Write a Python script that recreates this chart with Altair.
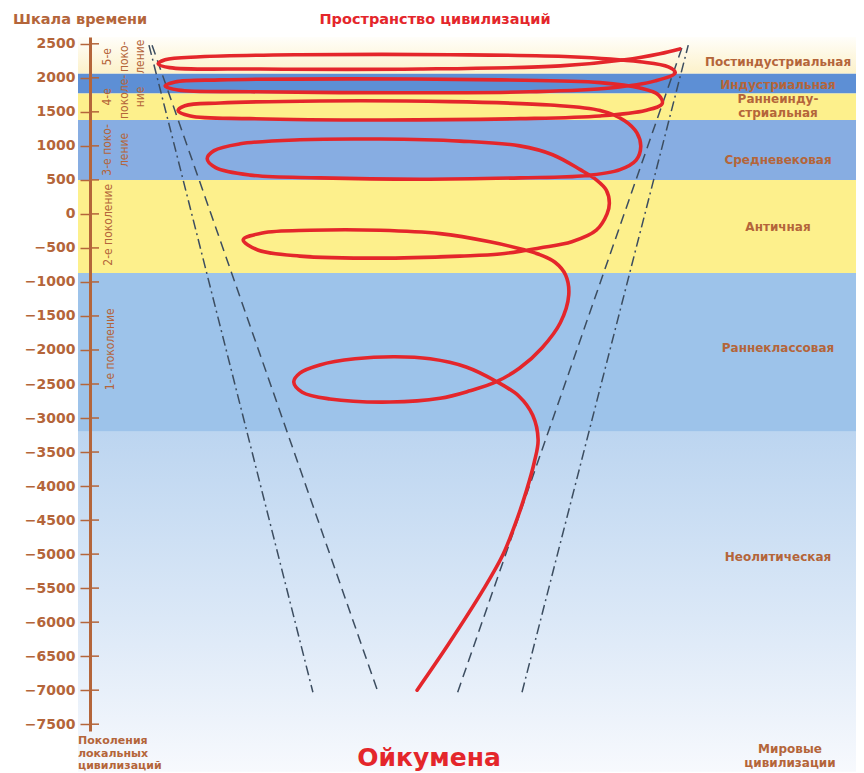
import altair as alt
import pandas as pd

# ---------------- data ----------------
tick_years = [2500, 2000, 1500, 1000, 500, 0, -500, -1000, -1500, -2000, -2500,
              -3000, -3500, -4000, -4500, -5000, -5500, -6000, -6500, -7000, -7500]

era_names = ["Постиндустриальная", "Индустриальная", "Раннеинду-\nстриальная",
             "Средневековая", "Античная", "Раннеклассовая", "Неолитическая"]
era_from = [2600, 2060, 1770, 1380, 500, -870, -3200]
era_to = [2060, 1770, 1380, 500, -870, -3200, -8200]
era_label_year = [2235, 1897, 1695, 795, -190, -1970, -5040]

generation_names = ["5-е\nпоко-\nление", "4-е\nпоколе-\nние", "3-е поко-\nление",
                    "2-е поколение", "1-е поколение"]
generation_year = [2310, 1720, 940, -160, -1990]

# the spiral of civilisations ("space" units 0..100, time in years)
spiral_x = [42.7, 46.7, 51.3, 53.9, 55.7, 57.0, 58.0, 58.5, 57.8, 56.0,
            53.0, 49.1, 44.4, 39.8, 34.6, 30.0, 27.4, 26.6, 27.7, 31.3,
            39.2, 45.7, 49.6, 53.0, 56.1, 59.0, 61.4, 62.5, 62.1, 60.7,
            58.5, 56.4, 52.2, 45.7, 37.9, 28.7, 22.5, 20.0, 21.9, 27.4,
            37.9, 48.3, 53.5, 58.7, 62.9, 66.1, 67.5, 67.8, 67.4, 66.1,
            64.0, 60.4, 56.1, 48.3, 37.9, 27.4, 19.6, 16.2, 15.3, 16.4,
            20.9, 30.0, 43.1, 56.1, 64.6, 69.2, 71.3, 71.9, 71.4, 69.8,
            66.6, 60.1, 47.0, 30.0, 17.0, 12.4, 11.5, 13.1, 20.9, 37.9,
            56.1, 66.6, 72.5, 74.7, 74.2, 71.8, 66.6, 53.5, 33.9, 17.0,
            11.1, 9.8, 11.5, 20.9, 40.5, 57.4, 67.9, 73.8, 76.4, 75.5,
            71.8, 62.7, 47.0, 27.4, 14.4, 9.8, 8.9, 10.4, 22.2, 43.1,
            61.4, 69.8, 74.4, 77.0]
spiral_year = [-7000, -6340, -5530, -5010, -4500, -4060, -3650, -3320, -2960, -2680,
               -2460, -2250, -2130, -2100, -2130, -2220, -2340, -2470, -2620, -2720,
               -2765, -2710, -2600, -2470, -2265, -1970, -1600, -1190, -900, -710,
               -590, -520, -410, -290, -240, -240, -280, -380, -530, -620,
               -650, -620, -590, -500, -410, -240, 0, 160, 350, 500,
               650, 870, 1000, 1070, 1100, 1090, 1030, 930, 810, 680,
               570, 530, 510, 530, 560, 650, 790, 990, 1190, 1370,
               1520, 1600, 1650, 1660, 1630, 1590, 1520, 1440, 1400, 1380,
               1400, 1440, 1520, 1620, 1750, 1850, 1930, 1970, 1985, 1970,
               1940, 1880, 1820, 1795, 1780, 1795, 1850, 1955, 2075, 2160,
               2235, 2310, 2340, 2340, 2310, 2265, 2205, 2150, 2130, 2130,
               2175, 2265, 2355, 2425]

# boundaries of the cone (local civilisations inside, world civilisations outside)
cone_names = ["left outer", "left inner", "right inner", "right outer"]
cone_kind = ["dashdot", "dashed", "dashed", "dashdot"]
cone_top_x = [7.7, 8.1, 77.4, 78.1]
cone_bottom_x = [29.1, 37.6, 48.0, 56.4]
cone_top_year = 2480
cone_bottom_year = -7030

# ---------------- styles ----------------
BROWN = "#b4653a"
RED = "#e4262b"
BOLD_FONT = "DejaVu Sans"
NARROW_FONT = "Liberation Sans Narrow, DejaVu Sans Condensed, Roboto"
era_fill = {"Индустриальная": "#5d8fd5", "Раннеинду-\nстриальная": "#fdf08c",
            "Средневековая": "#87ade2", "Античная": "#fdf08c",
            "Раннеклассовая": "#9dc3ea"}
gen_px = [17, 17, 17, 18, 20]

W, H = 766, 694

xs = alt.Scale(domain=[0, 100], nice=False, zero=False)
ys = alt.Scale(domain=[-7600, 2600], nice=False, zero=False)
yax = alt.Axis(values=tick_years, format="d", title="", grid=False,
               domainColor=BROWN, domainWidth=3, tickColor=BROWN, tickWidth=1.5,
               tickSize=10, labelColor=BROWN, labelFont=BOLD_FONT,
               labelFontWeight="bold", labelFontSize=14, labelPadding=5, zindex=1)


def Y(f):
    return alt.Y(f, type="quantitative", scale=ys, axis=yax)


def X(f):
    return alt.X(f, type="quantitative", scale=xs, axis=None)


eras = pd.DataFrame({"era": era_names, "yr": era_from, "yr2": era_to,
                     "label_yr": era_label_year})
eras["fill"] = eras["era"].map(era_fill)

solid = alt.Chart(eras.dropna(subset=["fill"])).mark_rect().encode(
    y=Y("yr"), y2="yr2", x=alt.value(-12), x2=alt.value(W),
    color=alt.Color("fill:N", scale=None))

top_band = alt.Chart(eras.iloc[[0]]).mark_rect(
    color=alt.Gradient(gradient="linear", x1=0, x2=0, y1=0, y2=1,
                       stops=[alt.GradientStop(color="#fffefa", offset=0),
                              alt.GradientStop(color="#fcf1c9", offset=1)])
).encode(y=Y("yr"), y2="yr2", x=alt.value(-12), x2=alt.value(W))

neo_band = alt.Chart(eras.iloc[[6]]).mark_rect(
    color=alt.Gradient(gradient="linear", x1=0, x2=0, y1=0, y2=1,
                       stops=[alt.GradientStop(color="#bcd5f0", offset=0),
                              alt.GradientStop(color="#dbe8f7", offset=0.55),
                              alt.GradientStop(color="#f7f9fd", offset=1)])
).encode(y=Y("yr"), y2="yr2", x=alt.value(-12), x2=alt.value(W))

rows = []
for n, k, tx, bx in zip(cone_names, cone_kind, cone_top_x, cone_bottom_x):
    rows.append({"line": n, "kind": k, "x": tx, "yr": cone_top_year})
    rows.append({"line": n, "kind": k, "x": bx, "yr": cone_bottom_year})
cone = pd.DataFrame(rows)

dashed = alt.Chart(cone[cone.kind == "dashed"]).mark_line(
    color="#3c4d60", strokeWidth=1.5, strokeDash=[10, 6]
).encode(x=X("x"), y=Y("yr"), detail="line:N")
dashdot = alt.Chart(cone[cone.kind == "dashdot"]).mark_line(
    color="#3c4d60", strokeWidth=1.5, strokeDash=[10, 4, 2, 4]
).encode(x=X("x"), y=Y("yr"), detail="line:N")

spiral = pd.DataFrame({"i": range(len(spiral_x)), "x": spiral_x, "yr": spiral_year})
spiral_line = alt.Chart(spiral).mark_line(
    color=RED, strokeWidth=3.6, interpolate="catmull-rom",
    strokeCap="round", strokeJoin="round"
).encode(x=X("x"), y=Y("yr"), order="i:Q")

ticks = pd.DataFrame({"yr": tick_years})
tick_right = alt.Chart(ticks).mark_rule(color=BROWN, strokeWidth=1.5).encode(
    y=Y("yr"), x=alt.value(0), x2=alt.value(9))

era_text = alt.Chart(eras).mark_text(
    font=BOLD_FONT, fontWeight="bold", fontSize=12, lineBreak="\n", lineHeight=14,
    color=BROWN, align="center", baseline="middle"
).encode(y=Y("label_yr"), x=alt.value(688), text="era:N")

gens = pd.DataFrame({"g": generation_names, "yr": generation_year, "px": gen_px})
gen_text = alt.Chart(gens).mark_text(
    font=NARROW_FONT, fontSize=12, lineBreak="\n", lineHeight=16.5, angle=270,
    color=BROWN, align="center", baseline="middle"
).encode(y=Y("yr"), x=alt.X("px:Q", scale=None, axis=None), text="g:N")

header_left = alt.Chart(pd.DataFrame({"t": ["Шкала времени"]})).mark_text(
    font=BOLD_FONT, fontWeight="bold", fontSize=14.5, color=BROWN,
    align="left", baseline="middle"
).encode(x=alt.value(-77), y=alt.value(-17), text="t:N")
header_mid = alt.Chart(pd.DataFrame({"t": ["Пространство цивилизаций"]})).mark_text(
    font=BOLD_FONT, fontWeight="bold", fontSize=14.5, color=RED,
    align="center", baseline="middle"
).encode(x=alt.value(345), y=alt.value(-17), text="t:N")
foot_left = alt.Chart(pd.DataFrame({"t": ["Поколения\nлокальных\nцивилизаций"]})).mark_text(
    font=BOLD_FONT, fontWeight="bold", fontSize=11, color=BROWN, lineBreak="\n",
    lineHeight=12.5, align="left", baseline="middle"
).encode(x=alt.value(-12), y=alt.value(704), text="t:N")
foot_mid = alt.Chart(pd.DataFrame({"t": ["Ойкумена"]})).mark_text(
    font=BOLD_FONT, fontWeight="bold", fontSize=25, color=RED,
    align="center", baseline="alphabetic"
).encode(x=alt.value(339), y=alt.value(729), text="t:N")
foot_right = alt.Chart(pd.DataFrame({"t": ["Мировые\nцивилизации"]})).mark_text(
    font=BOLD_FONT, fontWeight="bold", fontSize=12, color=BROWN, lineBreak="\n",
    lineHeight=14, align="center", baseline="middle"
).encode(x=alt.value(700), y=alt.value(712), text="t:N")

chart = alt.layer(
    top_band, solid, neo_band, dashed, dashdot, spiral_line, tick_right,
    era_text, gen_text, header_left, header_mid,
    foot_left, foot_mid, foot_right
).properties(
    width=W, height=H,
    padding={"left": 82, "top": 29, "right": 0, "bottom": 42},
    autosize=alt.AutoSizeParams(type="none"),
    background="white"
).configure_view(strokeWidth=0)

chart.save("out.html", embed_options={"renderer": "svg", "actions": False})
